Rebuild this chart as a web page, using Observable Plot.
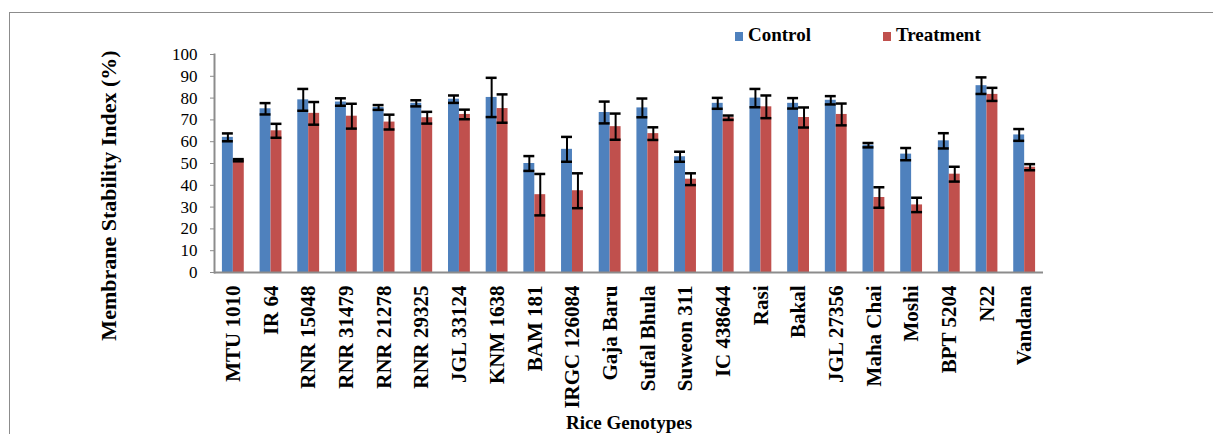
<!DOCTYPE html>
<html>
<head>
<meta charset="utf-8">
<script src="https://cdn.jsdelivr.net/npm/d3@7"></script>
<script src="https://cdn.jsdelivr.net/npm/@observablehq/plot@0.6"></script>
<style>
  html, body { margin: 0; padding: 0; background: #fff; width: 1213px; height: 434px; overflow: hidden; font-family: 'Liberation Serif', 'Times New Roman', serif; }
  #wrap { position: relative; width: 1213px; height: 434px; }
  #border { position: absolute; left: 9px; top: 12px; width: 1400px; height: 600px; border: 1.5px solid #8c8c8c; box-sizing: border-box; }
  #chart { position: absolute; left: 0; top: 0; }
  .leg { position: absolute; top: 24px; font-weight: bold; font-size: 19px; color: #000; white-space: nowrap; }
  .sw { position: absolute; top: 32px; width: 8px; height: 9px; }
</style>
</head>
<body>
<div id="wrap">
  <div id="border"></div>
  <div id="chart"></div>
  <div class="sw" style="left:735px;background:#4F81BD"></div>
  <div class="leg" style="left:748px">Control</div>
  <div class="sw" style="left:883px;background:#C0504D"></div>
  <div class="leg" style="left:896px">Treatment</div>
</div>
<script>
const genotypes = ["MTU 1010","IR 64","RNR 15048","RNR 31479","RNR 21278","RNR 29325","JGL 33124","KNM 1638","BAM 181","IRGC 126084","Gaja Baru","Sufal Bhula","Suweon 311","IC 438644","Rasi","Bakal","JGL 27356","Maha Chai","Moshi","BPT 5204","N22","Vandana"];
const control    = [62.0, 75.1, 79.2, 78.2, 75.7, 77.6, 79.5, 80.3, 50.0, 56.5, 73.4, 75.5, 53.1, 77.6, 80.0, 77.6, 79.0, 58.4, 54.3, 60.4, 85.7, 63.1];
const controlErr = [1.8, 2.6, 5.0, 1.7, 1.1, 1.4, 1.7, 9.0, 3.4, 5.7, 5.0, 4.3, 2.3, 2.5, 4.2, 2.4, 1.9, 1.0, 2.8, 3.5, 3.8, 2.7];
const treatment    = [51.5, 65.0, 73.0, 71.7, 69.0, 71.0, 72.5, 75.2, 35.7, 37.5, 66.9, 63.7, 42.8, 71.0, 76.0, 71.1, 72.5, 34.4, 31.0, 45.1, 81.7, 48.3];
const treatmentErr = [0.5, 3.2, 5.2, 5.7, 3.4, 2.7, 2.2, 6.5, 9.5, 8.0, 6.0, 2.9, 2.7, 1.0, 5.2, 4.6, 5.0, 4.7, 3.3, 3.4, 3.0, 1.4];
const yTicks = [0,10,20,30,40,50,60,70,80,90,100];
const seriesNames = ["Control", "Treatment"];
const colors = ["#4F81BD", "#C0504D"];

const rows = genotypes.map((g, i) => ({
  genotype: g,
  c: control[i], cLo: control[i] - controlErr[i], cHi: control[i] + controlErr[i],
  t: treatment[i], tLo: treatment[i] - treatmentErr[i], tHi: treatment[i] + treatmentErr[i]
}));

const W = 1213, H = 434, mL = 214, mR = 170, mT = 54, mB = 162;
const padInner = 0.42;
const step = (W - mL - mR) / genotypes.length;
const half = step * (1 - padInner) / 2;
const axisGray = "#8c8c8c";
const serif = "'Liberation Serif', 'Times New Roman', serif";

const chart = Plot.plot({
  width: W, height: H,
  marginLeft: mL, marginRight: mR, marginTop: mT, marginBottom: mB,
  style: { fontFamily: serif, background: "transparent" },
  x: { domain: genotypes, paddingInner: padInner, paddingOuter: padInner / 2, round: false, axis: null },
  y: { domain: [0, 100], axis: null },
  marks: [
    Plot.barY(rows, { x: "genotype", y: "c", fill: colors[0], insetRight: half }),
    Plot.barY(rows, { x: "genotype", y: "t", fill: colors[1], insetLeft: half }),
    Plot.ruleX(rows, { x: "genotype", y1: "cLo", y2: "cHi", dx: -half / 2, stroke: "#000", strokeWidth: 2 }),
    Plot.ruleX(rows, { x: "genotype", y1: "tLo", y2: "tHi", dx: half / 2, stroke: "#000", strokeWidth: 2 }),
    Plot.tickY(rows, { x: "genotype", y: "cLo", insetRight: half, stroke: "#000", strokeWidth: 2.5 }),
    Plot.tickY(rows, { x: "genotype", y: "cHi", insetRight: half, stroke: "#000", strokeWidth: 2.5 }),
    Plot.tickY(rows, { x: "genotype", y: "tLo", insetLeft: half, stroke: "#000", strokeWidth: 2.5 }),
    Plot.tickY(rows, { x: "genotype", y: "tHi", insetLeft: half, stroke: "#000", strokeWidth: 2.5 }),
    Plot.ruleY([0], { stroke: axisGray, strokeWidth: 2 }),
    Plot.frame({ anchor: "left", stroke: axisGray, strokeWidth: 2 }),
    Plot.axisY({ ticks: yTicks, tickSize: 4, tickPadding: 13, stroke: axisGray, fontSize: 17, fontFamily: serif, label: null }),
    Plot.axisX({ tickRotate: -90, tickSize: 0, tickPadding: 13, fontSize: 21, fontWeight: "bold", fontFamily: serif, label: null }),
    Plot.text(["Membrane Stability Index (%)"], { frameAnchor: "left", textAnchor: "middle", lineAnchor: "middle", dx: -106, dy: 32, rotate: -90, fontSize: 22, fontWeight: "bold", fontFamily: serif, fill: "#000" }),
    Plot.text(["Rice Genotypes"], { frameAnchor: "bottom", textAnchor: "middle", dy: 156, fontSize: 19, fontWeight: "bold", fontFamily: serif, fill: "#000" })
  ]
});
document.getElementById("chart").appendChild(chart);
</script>
</body>
</html>
